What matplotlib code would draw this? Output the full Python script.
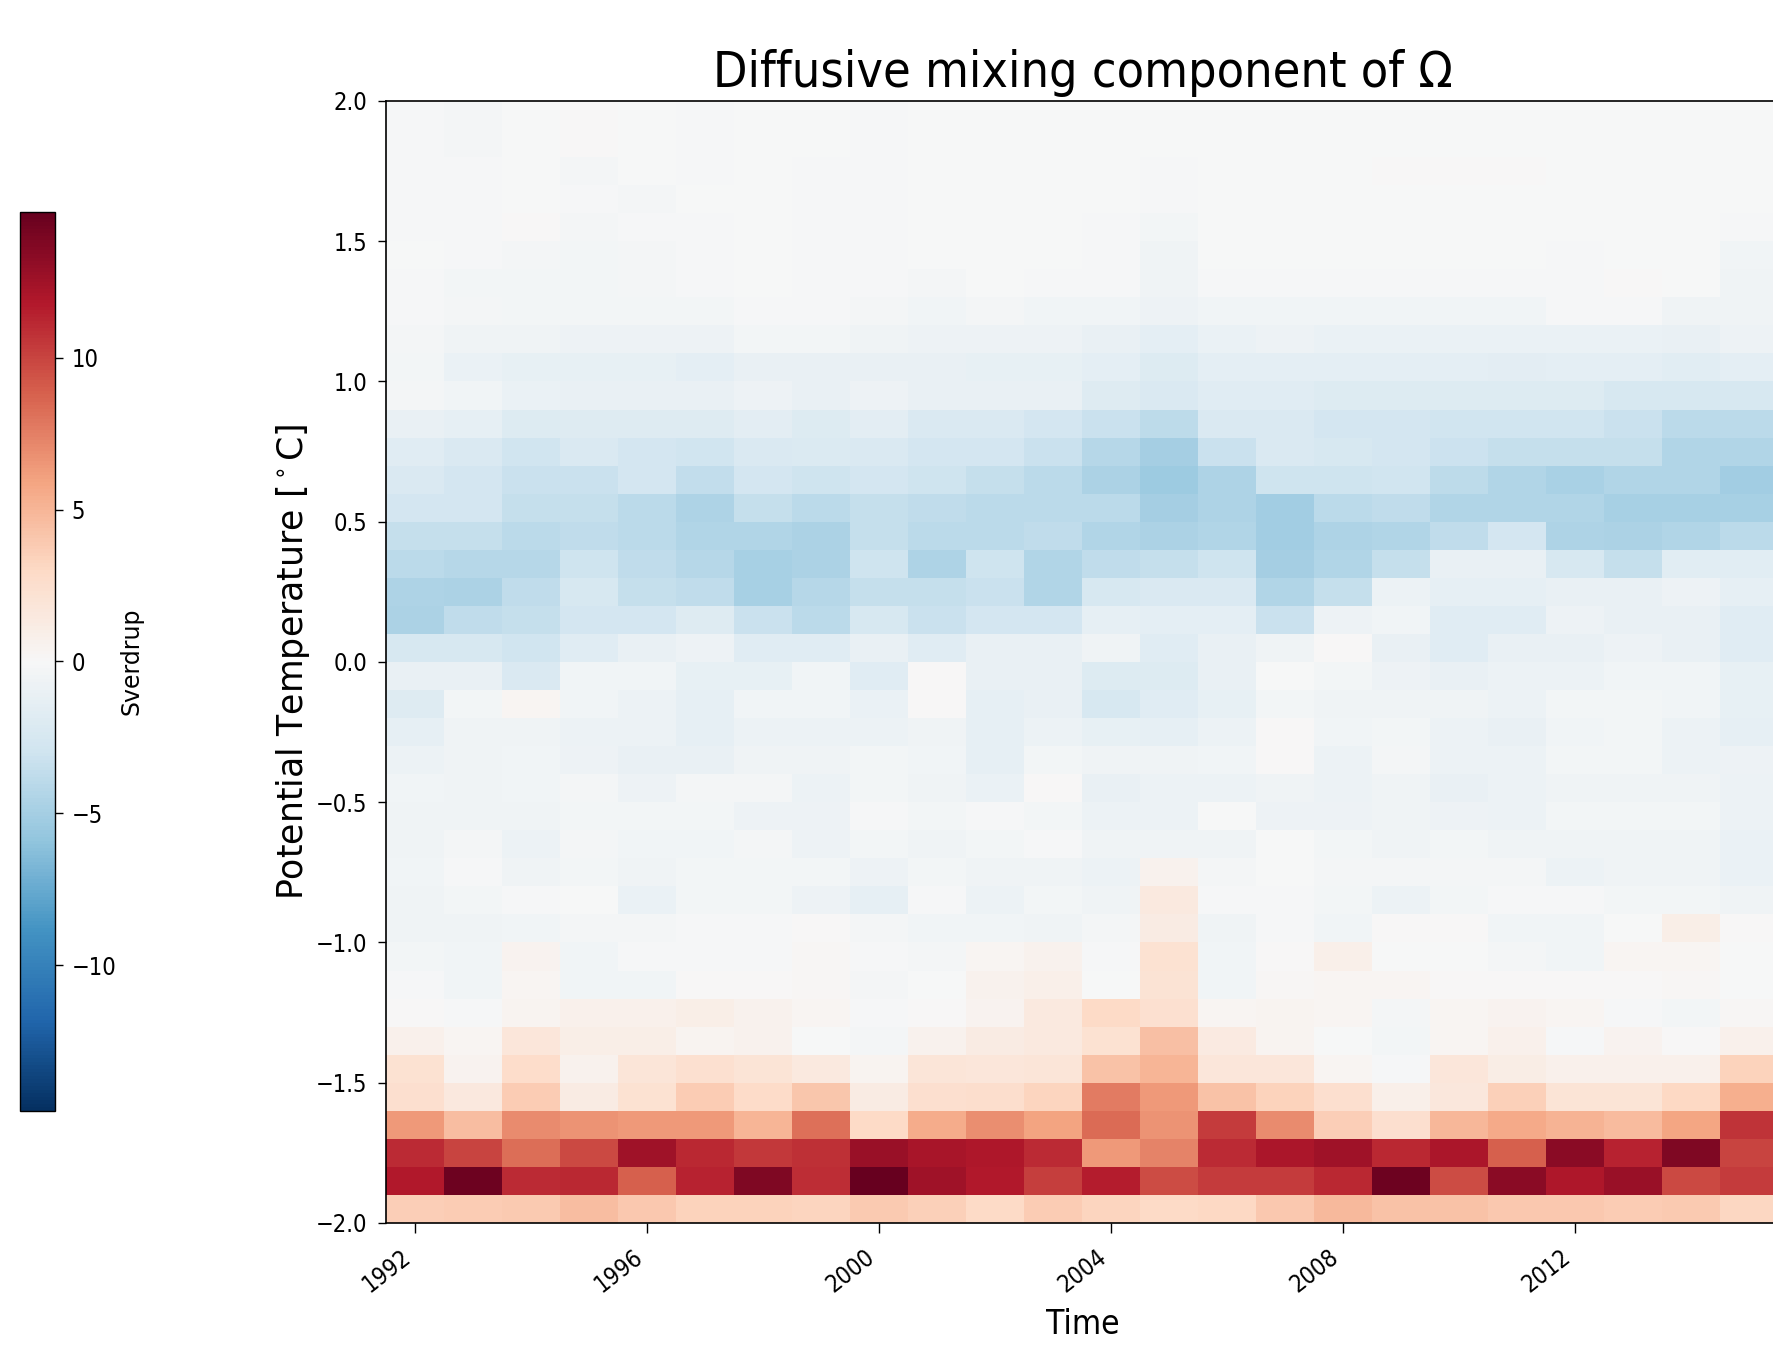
import matplotlib
matplotlib.use('Agg')
import matplotlib.pyplot as plt
import numpy as np
from matplotlib import font_manager

# annual columns, 0.1 degC potential-temperature bins
years = list(range(1992, 2016))
theta = np.round(np.arange(-1.95, 2.0, 0.1), 2)

# diffusive mixing component (Sv), rows listed from the top bin (1.9..2.0) down
rows_top_down = [
    [-0.2, -0.3, -0.1, 0.0, -0.1, -0.2, -0.1, -0.1, -0.2, -0.1, -0.1, -0.1, -0.1, -0.1, -0.1, -0.1, -0.1, -0.1, -0.1, -0.1, -0.1, -0.1, -0.1, -0.1],
    [-0.2, -0.3, -0.1, 0.0, -0.1, -0.2, -0.1, -0.1, -0.2, -0.1, -0.1, -0.1, -0.1, -0.1, -0.1, -0.1, -0.1, -0.1, -0.1, -0.1, -0.1, -0.1, -0.1, -0.1],
    [-0.2, -0.2, -0.1, -0.3, -0.1, -0.2, -0.1, -0.2, -0.2, -0.1, -0.1, -0.1, -0.1, -0.2, -0.1, -0.1, -0.1, 0.0, 0.0, 0.0, -0.1, -0.1, -0.1, -0.1],
    [-0.2, -0.2, -0.1, -0.2, -0.3, -0.1, -0.1, -0.2, -0.2, -0.1, -0.1, -0.1, -0.1, -0.2, -0.1, -0.1, -0.1, -0.1, -0.1, -0.1, -0.1, -0.1, -0.1, -0.1],
    [-0.2, -0.2, 0.0, -0.3, -0.2, -0.2, -0.1, -0.2, -0.2, -0.1, -0.1, -0.1, -0.2, -0.4, -0.1, -0.1, -0.1, -0.1, -0.1, -0.1, -0.1, -0.1, -0.1, -0.2],
    [-0.1, -0.2, -0.3, -0.4, -0.3, -0.2, -0.1, -0.2, -0.2, -0.1, -0.1, -0.1, -0.2, -0.6, -0.1, -0.1, -0.1, -0.1, -0.1, -0.1, -0.2, -0.1, -0.1, -0.5],
    [-0.2, -0.4, -0.4, -0.4, -0.3, -0.2, -0.1, -0.2, -0.2, -0.3, -0.1, -0.2, -0.2, -0.6, -0.2, -0.2, -0.2, -0.2, -0.2, -0.2, -0.2, 0.0, -0.1, -0.6],
    [-0.2, -0.3, -0.4, -0.4, -0.4, -0.4, -0.2, -0.2, -0.3, -0.5, -0.3, -0.5, -0.5, -0.7, -0.5, -0.5, -0.5, -0.5, -0.5, -0.5, -0.2, -0.2, -0.6, -0.6],
    [-0.3, -0.6, -0.6, -0.8, -0.8, -0.8, -0.4, -0.4, -0.6, -0.8, -0.8, -0.8, -1.1, -1.4, -1.0, -0.8, -1.0, -1.0, -1.0, -1.0, -1.0, -1.0, -1.1, -0.8],
    [-0.4, -1.0, -1.2, -1.2, -1.2, -1.4, -1.1, -1.1, -1.1, -1.1, -1.2, -1.2, -1.5, -2.0, -1.4, -1.4, -1.5, -1.5, -1.5, -1.6, -1.5, -1.5, -1.7, -1.5],
    [-0.3, -0.5, -1.0, -1.1, -1.1, -1.1, -0.8, -1.1, -0.8, -1.1, -1.1, -1.1, -1.9, -2.3, -1.8, -1.8, -2.0, -2.0, -2.0, -2.0, -2.0, -2.5, -2.5, -2.5],
    [-1.1, -1.3, -2.0, -1.9, -1.9, -1.9, -1.6, -2.0, -1.6, -2.2, -2.2, -2.7, -3.3, -3.9, -2.3, -2.3, -2.7, -2.7, -2.9, -2.9, -2.9, -3.3, -4.0, -4.0],
    [-1.8, -2.3, -2.9, -2.3, -2.7, -3.0, -2.3, -2.1, -2.3, -2.7, -2.7, -3.3, -4.2, -5.0, -3.3, -2.3, -2.5, -2.7, -3.2, -3.5, -3.5, -3.5, -4.5, -4.5],
    [-2.3, -2.7, -3.3, -3.3, -2.7, -3.6, -2.7, -3.1, -2.7, -3.1, -3.5, -4.0, -4.7, -5.4, -4.6, -3.1, -3.1, -2.9, -3.9, -4.4, -4.8, -4.4, -4.4, -5.2],
    [-2.7, -2.7, -3.5, -3.5, -4.0, -4.6, -3.5, -4.0, -3.5, -3.8, -4.0, -4.0, -4.0, -5.0, -4.6, -5.1, -4.0, -3.8, -4.5, -4.5, -4.5, -4.9, -4.9, -4.9],
    [-3.5, -3.5, -4.0, -3.8, -4.0, -4.4, -4.4, -4.7, -3.5, -4.0, -4.0, -3.8, -4.4, -4.7, -4.4, -5.2, -4.6, -4.4, -3.8, -2.7, -4.6, -4.7, -4.4, -4.0],
    [-4.0, -4.2, -4.2, -3.1, -3.8, -4.2, -4.9, -4.7, -3.1, -4.6, -3.1, -4.4, -3.8, -3.5, -3.1, -5.0, -4.4, -3.5, -1.1, -1.1, -2.5, -3.5, -1.7, -1.7],
    [-4.6, -4.7, -3.8, -2.5, -3.5, -3.8, -4.9, -4.2, -3.5, -3.5, -3.3, -4.4, -2.5, -2.3, -2.3, -4.4, -3.5, -0.9, -1.3, -1.3, -1.1, -1.1, -0.8, -1.3],
    [-4.7, -3.8, -3.5, -2.7, -2.7, -1.9, -3.3, -4.0, -2.5, -3.3, -2.7, -2.7, -1.3, -1.5, -1.5, -3.3, -0.8, -0.5, -1.8, -1.8, -0.7, -1.1, -1.1, -1.8],
    [-2.5, -2.5, -3.0, -1.8, -1.1, -0.7, -1.8, -1.8, -1.1, -1.8, -1.1, -1.1, -0.6, -1.8, -1.1, -0.6, 0.0, -1.1, -1.8, -1.1, -1.1, -0.7, -1.1, -1.8],
    [-1.1, -1.1, -2.3, -0.5, -0.5, -1.2, -1.2, -0.5, -1.8, 0.0, -1.1, -1.1, -2.0, -2.0, -1.1, -0.1, -0.4, -0.8, -1.1, -0.9, -0.9, -0.5, -0.5, -1.2],
    [-1.9, -0.4, 0.3, -0.5, -0.9, -1.3, -0.5, -0.5, -1.0, 0.0, -1.3, -1.1, -2.5, -1.8, -1.2, -0.4, -0.6, -0.6, -0.6, -0.9, -0.4, -0.4, -0.5, -1.2],
    [-1.3, -0.6, -0.6, -0.9, -0.9, -1.3, -0.9, -0.9, -0.9, -0.6, -1.3, -0.9, -1.2, -1.3, -0.9, 0.0, -0.5, -0.4, -0.9, -1.1, -0.5, -0.4, -0.9, -1.3],
    [-0.9, -0.6, -0.5, -0.7, -1.1, -1.1, -0.6, -0.6, -0.4, -0.5, -1.3, -0.4, -0.6, -0.6, -0.5, 0.0, -0.9, -0.3, -0.9, -0.9, -0.4, -0.4, -0.9, -0.7],
    [-0.5, -0.6, -0.5, -0.3, -0.7, -0.3, -0.3, -0.9, -0.4, -0.6, -1.0, 0.0, -1.1, -0.9, -0.9, -0.6, -0.9, -0.6, -1.1, -0.9, -0.6, -0.6, -0.6, -0.9],
    [-0.6, -0.6, -0.6, -0.4, -0.4, -0.4, -0.7, -0.7, -0.2, -0.4, -0.2, -0.4, -0.9, -0.9, -0.1, -0.7, -0.7, -0.6, -0.7, -0.9, -0.4, -0.4, -0.4, -0.9],
    [-0.6, -0.3, -0.9, -0.3, -0.5, -0.5, -0.3, -0.7, -0.4, -0.6, -0.4, -0.2, -0.6, -0.6, -0.6, -0.1, -0.4, -0.6, -0.4, -0.6, -0.6, -0.6, -0.6, -1.0],
    [-0.5, -0.2, -0.6, -0.4, -0.6, -0.4, -0.4, -0.4, -0.7, -0.4, -0.6, -0.6, -0.9, 0.6, -0.3, -0.1, -0.3, -0.3, -0.3, -0.3, -0.9, -0.6, -0.6, -1.0],
    [-0.6, -0.4, -0.2, -0.1, -1.0, -0.4, -0.4, -0.7, -1.3, -0.2, -0.9, -0.4, -0.6, 1.5, -0.2, -0.2, -0.4, -0.9, -0.4, -0.2, -0.2, -0.4, -0.4, -0.6],
    [-0.6, -0.6, -0.5, -0.3, -0.3, -0.2, -0.2, 0.0, -0.3, -0.5, -0.5, -0.6, -0.3, 1.2, -0.6, -0.2, -0.5, 0.1, 0.1, -0.5, -0.5, -0.1, 1.0, 0.0],
    [-0.4, -0.5, 0.5, -0.5, -0.2, -0.2, -0.2, 0.2, -0.2, -0.3, 0.3, 0.6, -0.2, 2.2, -0.5, 0.0, 0.9, -0.1, -0.1, -0.3, -0.5, 0.3, 0.3, -0.1],
    [-0.2, -0.5, 0.3, -0.5, -0.5, 0.0, 0.0, 0.2, -0.3, -0.1, 0.6, 0.9, -0.1, 2.1, -0.5, 0.2, 0.3, 0.3, 0.1, 0.1, 0.1, 0.1, 0.2, -0.1],
    [0.0, -0.2, 0.4, 0.7, 0.7, 1.0, 0.6, 0.3, -0.2, 0.0, 0.5, 1.5, 2.9, 2.4, 0.3, 0.4, 0.3, -0.3, 0.3, 0.5, 0.3, -0.2, -0.4, 0.2],
    [0.8, 0.3, 1.8, 1.0, 1.0, 0.4, 0.6, -0.1, -0.3, 0.6, 1.2, 1.5, 2.3, 4.4, 1.3, 0.4, -0.1, -0.4, 0.3, 0.8, -0.2, 0.5, 0.0, 0.8],
    [2.3, 0.5, 2.7, 0.6, 1.9, 2.4, 2.0, 1.5, 0.4, 1.9, 1.8, 1.9, 4.3, 5.0, 1.8, 1.8, 0.3, -0.2, 1.8, 1.1, 0.8, 0.8, 0.8, 3.4],
    [2.5, 1.6, 3.8, 1.2, 2.3, 3.7, 2.8, 4.1, 1.2, 2.5, 2.6, 3.3, 7.7, 6.4, 4.3, 3.4, 2.5, 0.9, 1.7, 3.5, 2.0, 2.0, 3.1, 5.4],
    [6.4, 4.6, 7.0, 6.6, 6.4, 6.4, 5.0, 8.1, 3.0, 5.5, 6.9, 5.9, 8.4, 6.6, 10.4, 7.0, 3.6, 2.5, 4.9, 5.6, 5.2, 4.7, 5.8, 10.7],
    [11.0, 10.0, 8.3, 9.8, 12.6, 11.2, 10.5, 10.8, 12.8, 12.2, 12.0, 11.0, 6.4, 7.3, 11.0, 12.1, 12.6, 11.2, 12.1, 8.8, 13.3, 11.4, 13.8, 10.0],
    [11.8, 14.5, 11.0, 11.2, 8.8, 11.4, 13.8, 10.9, 14.8, 12.5, 11.9, 10.2, 11.6, 9.6, 10.3, 10.4, 11.2, 14.5, 9.7, 13.3, 12.0, 12.8, 9.8, 10.4],
    [3.6, 3.8, 3.9, 4.6, 4.0, 3.4, 3.4, 3.3, 3.9, 3.5, 3.0, 3.8, 3.3, 3.0, 3.1, 4.0, 4.8, 4.3, 4.3, 4.0, 4.0, 3.8, 3.9, 3.2],
]
omega_mix = np.array(rows_top_down)[::-1]

xticks = [1992, 1996, 2000, 2004, 2008, 2012]
yticks = [-2.0, -1.5, -1.0, -0.5, 0.0, 0.5, 1.0, 1.5, 2.0]
cticks = [-10, -5, 0, 5, 10]

# the picture's horizontal text is narrow, use a condensed face if there is one
fl = font_manager.fontManager.ttflist
narrow = False
if any(f.name == 'DejaVu Sans Condensed' for f in fl):
    plt.rcParams['font.family'] = ['DejaVu Sans Condensed', 'DejaVu Sans']
    narrow = True
elif any(f.name == 'DejaVu Sans' and 'condensed' in str(f.stretch) for f in fl):
    plt.rcParams['font.family'] = ['DejaVu Sans']
    plt.rcParams['font.stretch'] = 'condensed'
    narrow = True
else:
    plt.rcParams['font.family'] = ['DejaVu Sans']
k = 1.0 if narrow else 0.9

fig = plt.figure(figsize=(17.74, 13.46), dpi=100)
ax = fig.add_axes([0.2176, 0.0914, 0.7858, 0.8336])
cax = fig.add_axes([0.0113, 0.1746, 0.0197, 0.668])

mesh = ax.pcolormesh(years, theta, omega_mix, shading='nearest', cmap='RdBu_r',
                     vmin=-14.8, vmax=14.8, antialiased=False)
ax.set_xlim(1991.5, 2015.54)
ax.set_ylim(-2.0, 2.0)

ax.set_xticks(xticks, labels=[str(y) for y in xticks], rotation=38, ha='right')
ax.set_yticks(yticks, labels=[('%.1f' % v).replace('-', '\u2212') for v in yticks])
ax.tick_params(axis='x', length=7, width=1, labelsize=17 * k, pad=9)
ax.tick_params(axis='y', length=5.5, width=1, labelsize=17 * k, pad=8)
for s in ax.spines.values():
    s.set_linewidth(1.2)

ax.set_title('Diffusive mixing component of Ω', fontsize=36 * k, pad=10)
ax.set_xlabel('Time', fontsize=24 * k)
ax.xaxis.set_label_coords(0.5, -0.076)
ax.set_ylabel('Potential Temperature [$^\\circ$C]', fontsize=25, family='DejaVu Sans',
              stretch='normal')
ax.yaxis.set_label_coords(-0.053, 0.5)

cb = fig.colorbar(mesh, cax=cax, ticks=cticks)
cb.outline.set_linewidth(1.0)
cax.tick_params(length=6, width=1, labelsize=17 * k, pad=6)
cb.set_label('Sverdrup', fontsize=17, family='DejaVu Sans', stretch='normal')
cax.yaxis.set_label_coords(2.85, 0.5)

fig.savefig('out.png', dpi=100)
